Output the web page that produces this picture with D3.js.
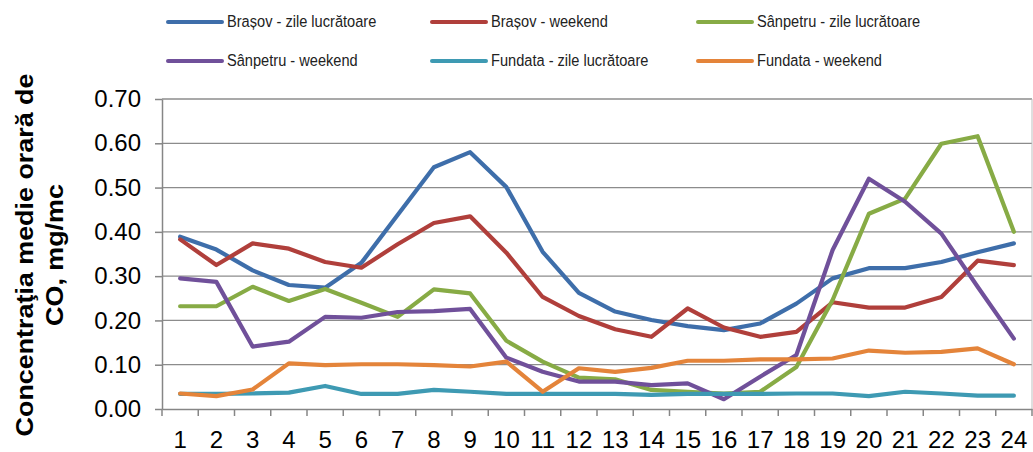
<!DOCTYPE html>
<html><head><meta charset="utf-8">
<script src="https://cdn.jsdelivr.net/npm/d3@7"></script>
<style>body{margin:0;background:#fff}svg{display:block;font-family:"Liberation Sans",Arial,sans-serif}</style>
</head><body><svg id="c" width="1033" height="452"></svg>
<script>
const categories = ["1","2","3","4","5","6","7","8","9","10","11","12","13","14","15","16","17","18","19","20","21","22","23","24"];
const seriesNames = ["Brașov - zile lucrătoare","Brașov - weekend","Sânpetru - zile lucrătoare","Sânpetru - weekend","Fundata - zile lucrătoare","Fundata - weekend"];
const brasovZile = [0.389,0.360,0.313,0.280,0.274,0.330,0.438,0.546,0.580,0.501,0.355,0.262,0.220,0.201,0.187,0.178,0.193,0.238,0.295,0.318,0.318,0.332,0.354,0.374];
const brasovWeekend = [0.383,0.325,0.374,0.362,0.332,0.319,0.372,0.420,0.435,0.353,0.253,0.210,0.180,0.163,0.227,0.184,0.163,0.174,0.241,0.229,0.229,0.253,0.335,0.325];
const sanpetruZile = [0.232,0.232,0.276,0.244,0.271,0.240,0.208,0.270,0.261,0.154,0.107,0.071,0.067,0.043,0.039,0.035,0.039,0.095,0.246,0.441,0.475,0.599,0.616,0.400];
const sanpetruWeekend = [0.295,0.287,0.141,0.152,0.208,0.206,0.219,0.221,0.226,0.116,0.084,0.062,0.062,0.054,0.058,0.022,0.073,0.122,0.359,0.520,0.468,0.396,0.276,0.159];
const fundataZile = [0.034,0.034,0.035,0.037,0.052,0.034,0.034,0.043,0.039,0.034,0.034,0.034,0.034,0.032,0.034,0.034,0.034,0.035,0.035,0.029,0.039,0.035,0.030,0.030];
const fundataWeekend = [0.035,0.029,0.044,0.103,0.099,0.101,0.101,0.099,0.096,0.107,0.039,0.092,0.084,0.093,0.109,0.109,0.112,0.112,0.114,0.132,0.127,0.129,0.137,0.101];
const yTicks = [0,0.1,0.2,0.3,0.4,0.5,0.6,0.7];
const colors = ["#3E6EAA","#B03F3B","#87AB45","#70509A","#3E9AB3","#E4843A"];
const allSeries = [brasovZile,brasovWeekend,sanpetruZile,sanpetruWeekend,fundataZile,fundataWeekend];

const svg = d3.select("#c");
const L = 162, R = 1032, T = 99, B = 409;
const x = d3.scaleBand().domain(categories).range([L, R]);
const y = d3.scaleLinear().domain([0, 0.7]).range([B, T]);

// gridlines
svg.append("g").selectAll("line").data(yTicks.slice(1)).join("line")
  .attr("x1", L).attr("x2", R).attr("y1", d => y(d)).attr("y2", d => y(d))
  .attr("stroke", "#8c8c8c").attr("stroke-width", 1.3);
svg.append("line").attr("x1", R).attr("x2", R).attr("y1", T).attr("y2", B)
  .attr("stroke", "#bfbfbf").attr("stroke-width", 1);

// y axis
const ya = svg.append("g").attr("transform", `translate(${L},0)`)
  .call(d3.axisLeft(y).tickValues(yTicks).tickFormat(d3.format(".2f")).tickSizeInner(7).tickSizeOuter(0).tickPadding(14));
ya.select(".domain").attr("stroke", "#868686").attr("stroke-width", 1.5);
ya.selectAll(".tick line").attr("stroke", "#868686").attr("stroke-width", 1.5);
ya.selectAll("text").attr("font-size", 24).attr("fill", "#000");

// x axis
const xa = svg.append("g").attr("transform", `translate(0,${B})`)
  .call(d3.axisBottom(x).tickSizeInner(0).tickSizeOuter(0).tickPadding(22));
xa.select(".domain").attr("stroke", "#868686").attr("stroke-width", 1.5);
xa.selectAll("text").attr("font-size", 24).attr("fill", "#000");
// category boundary ticks
svg.append("g").selectAll("line").data(categories.concat(["end"])).join("line")
  .attr("x1", (d,i) => L + i * x.step()).attr("x2", (d,i) => L + i * x.step())
  .attr("y1", B).attr("y2", B + 7).attr("stroke", "#868686").attr("stroke-width", 1.5);

// lines
const line = d3.line().x((d,i) => x(categories[i]) + x.bandwidth()/2).y(d => y(d));
svg.append("g").selectAll("path").data(allSeries).join("path")
  .attr("d", d => line(d)).attr("fill", "none")
  .attr("stroke", (d,i) => colors[i]).attr("stroke-width", 4.2)
  .attr("stroke-linejoin", "round").attr("stroke-linecap", "round");

// legend
const legX = [168, 432, 698], legY = [22, 61];
const lg = svg.append("g").selectAll("g").data(seriesNames).join("g")
  .attr("transform", (d,i) => `translate(${legX[i%3]},${legY[Math.floor(i/3)]})`);
lg.append("line").attr("x1", 0).attr("x2", 54).attr("y1", 0).attr("y2", 0)
  .attr("stroke", (d,i) => colors[i]).attr("stroke-width", 4).attr("stroke-linecap", "round");
lg.append("text").attr("transform", "translate(59,5) scale(1,1.12)").attr("font-size", 14.6).attr("fill", "#222").text(d => d);

// y title
const yt = svg.append("text").attr("transform", "translate(40,255) rotate(-90) scale(1.12,1)")
  .attr("text-anchor", "middle").attr("font-weight", "bold").attr("font-size", 24).attr("fill", "#000");
yt.append("tspan").attr("x", 0).attr("y", -7).text("Concentraţia medie orară de");
yt.append("tspan").attr("x", 0).attr("y", 23).text("CO, mg/mc");
</script></body></html>
